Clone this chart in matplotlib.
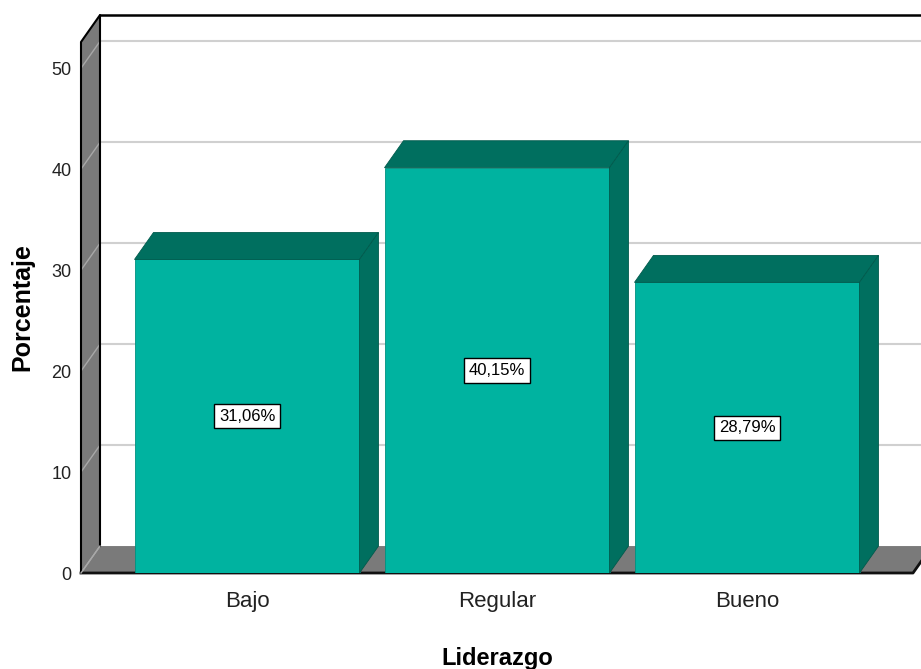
import matplotlib.pyplot as plt
from matplotlib.patches import Polygon

plt.rcParams['font.family'] = ['Liberation Sans', 'DejaVu Sans']

# Data
categories = ['Bajo', 'Regular', 'Bueno']
percentages = [31.06, 40.15, 28.79]
labels = ['31,06%', '40,15%', '28,79%']
yticks = [0, 10, 20, 30, 40, 50]

# Styles
front_col = '#00b3a0'
dark_col = '#006f5f'
wall_col = '#7a7a7a'
grid_col = '#d0d0d0'

x_lo, x_hi = -0.664, 2.664
y_top = 52.6
dx, dy = 0.076, 2.67     # depth offset of the 3D box
width = 0.9

fig = plt.figure(figsize=(9.21, 6.69), dpi=100)
ax = fig.add_axes([81 / 921, 96 / 669, 832 / 921, 531 / 669])
ax.set_xlim(x_lo, x_hi)
ax.set_ylim(0, y_top)
ax.patch.set_visible(False)
for s in ax.spines.values():
    s.set_visible(False)

# back wall gridlines
for t in yticks[1:]:
    ax.plot([x_lo + dx, x_hi + dx + 0.2], [t + dy, t + dy], color=grid_col, lw=1.5,
            clip_on=False, zorder=1)
# back wall top border
ax.plot([x_lo + dx, x_hi + dx + 0.2], [y_top + dy, y_top + dy], color='black', lw=1.8,
        clip_on=False, zorder=1)

# left wall
wall = Polygon([(x_lo, 0), (x_lo, y_top), (x_lo + dx, y_top + dy), (x_lo + dx, dy)],
               closed=True, fc=wall_col, ec='none', clip_on=False, zorder=2)
ax.add_patch(wall)
for t in yticks:
    ax.plot([x_lo, x_lo + dx], [t, t + dy], color='#a8a8a8', lw=1, clip_on=False, zorder=3)
ax.plot([x_lo, x_lo, x_lo + dx, x_lo + dx], [0, y_top, y_top + dy, dy],
        color='black', lw=1.5, clip_on=False, zorder=4)

# floor
floor = Polygon([(x_lo, 0), (x_hi, 0), (x_hi + dx, dy), (x_lo + dx, dy)],
                closed=True, fc=wall_col, ec='none', clip_on=False, zorder=2)
ax.add_patch(floor)
ax.plot([x_lo, x_hi, x_hi + dx], [0, 0, dy], color='#111111', lw=2, clip_on=False, zorder=4)
ax.plot([x_lo, x_lo + dx], [0, dy], color='#a8a8a8', lw=1, clip_on=False, zorder=4)

# bars
for i, v in enumerate(percentages):
    l, r = i - width / 2, i + width / 2
    front = Polygon([(l, 0), (r, 0), (r, v), (l, v)], closed=True,
                    fc=front_col, ec='#00917f', lw=0.6, zorder=5)
    top = Polygon([(l, v), (r, v), (r + dx, v + dy), (l + dx, v + dy)], closed=True,
                  fc=dark_col, ec='#005a4c', lw=0.6, zorder=5, clip_on=False)
    side = Polygon([(r, 0), (r + dx, dy), (r + dx, v + dy), (r, v)], closed=True,
                   fc=dark_col, ec='#005a4c', lw=0.6, zorder=5)
    ax.add_patch(front)
    ax.add_patch(top)
    ax.add_patch(side)
    ax.text(i, v / 2, labels[i], ha='center', va='center', fontsize=12, zorder=6,
            bbox=dict(boxstyle='square,pad=0.28', fc='white', ec='black', lw=1))

ax.set_yticks(yticks)
ax.tick_params(axis='y', length=0, pad=7, labelsize=13, labelcolor='#222222')
ax.set_xticks(range(len(categories)))
ax.set_xticklabels(categories)
ax.tick_params(axis='x', length=0, pad=13, labelsize=16, labelcolor='#222222')

ax.set_xlabel('Liderazgo', fontsize=17, fontweight='bold', labelpad=25)
ax.set_ylabel('Porcentaje', fontsize=18, fontweight='bold', labelpad=12)

fig.savefig('out.png', dpi=100)
